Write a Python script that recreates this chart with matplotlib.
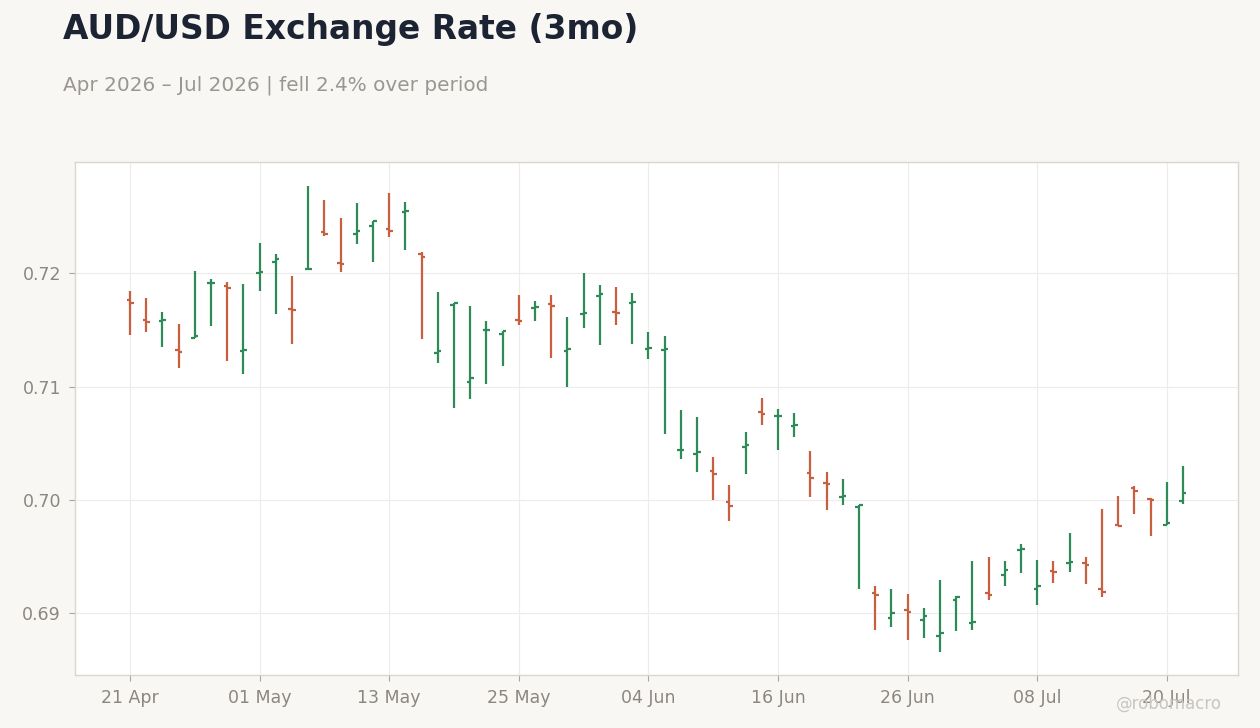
import numpy as np
import matplotlib
matplotlib.use('Agg')
import matplotlib.pyplot as plt
import pandas as pd

# AUD/USD daily OHLC
opens = [0.7176, 0.71585, 0.71576, 0.71322, 0.71433, 0.71911, 0.71892, 0.71310, 0.72003, 0.72102,
         0.71684, 0.72035, 0.72360, 0.72094, 0.72348, 0.72418, 0.72389, 0.72541, 0.72173, 0.71295,
         0.71716, 0.71041, 0.71500, 0.71462, 0.71585, 0.71696, 0.71728, 0.71313, 0.71643, 0.71801,
         0.71655, 0.71740, 0.71336, 0.71325, 0.70442, 0.70401, 0.70254, 0.69979, 0.70466, 0.70776,
         0.70738, 0.70652, 0.70236, 0.70147, 0.70030, 0.69935, 0.69183, 0.68962, 0.69032, 0.68944,
         0.68802, 0.69121, 0.68917, 0.69183, 0.69339, 0.69555, 0.69215, 0.69375, 0.69446, 0.69445,
         0.69215, 0.69775, 0.70103, 0.70012, 0.69782, 0.69988]
highs = [0.71845, 0.71784, 0.71661, 0.71556, 0.72020, 0.71950, 0.71924, 0.71906, 0.72266, 0.72170,
         0.71977, 0.72766, 0.72643, 0.72485, 0.72617, 0.72462, 0.72705, 0.72632, 0.72187, 0.71836,
         0.71734, 0.71713, 0.71582, 0.71494, 0.71810, 0.71757, 0.71810, 0.71617, 0.72003, 0.71898,
         0.71880, 0.71827, 0.71485, 0.71450, 0.70792, 0.70731, 0.70375, 0.70136, 0.70596, 0.70897,
         0.70799, 0.70764, 0.70428, 0.70242, 0.70189, 0.69953, 0.69242, 0.69215, 0.69171, 0.69047,
         0.69295, 0.69153, 0.69463, 0.69499, 0.69463, 0.69614, 0.69472, 0.69463, 0.69711, 0.69499,
         0.69923, 0.70038, 0.70127, 0.70015, 0.70162, 0.70295]
lows = [0.71453, 0.71480, 0.71348, 0.71164, 0.71433, 0.71532, 0.71225, 0.71111, 0.71848, 0.71637,
        0.71374, 0.72035, 0.72330, 0.72015, 0.72260, 0.72102, 0.72322, 0.72208, 0.71418, 0.71208,
        0.70813, 0.70892, 0.71023, 0.71181, 0.71541, 0.71576, 0.71251, 0.70997, 0.71515, 0.71365,
        0.71541, 0.71374, 0.71243, 0.70585, 0.70365, 0.70243, 0.69997, 0.69811, 0.70227, 0.70661,
        0.70440, 0.70555, 0.70024, 0.69909, 0.69953, 0.69218, 0.68855, 0.68882, 0.68767, 0.68785,
        0.68661, 0.68844, 0.68855, 0.69121, 0.69236, 0.69351, 0.69077, 0.69263, 0.69360, 0.69254,
        0.69139, 0.69767, 0.69879, 0.69684, 0.69779, 0.69968]
closes = [0.7174, 0.71567, 0.71585, 0.71304, 0.71447, 0.71915, 0.71874, 0.71319, 0.72015, 0.72129,
          0.71680, 0.72040, 0.72348, 0.72082, 0.72374, 0.72462, 0.72371, 0.72550, 0.72146, 0.71313,
          0.71734, 0.71076, 0.71503, 0.71488, 0.71576, 0.71705, 0.71713, 0.71336, 0.71646, 0.71813,
          0.71646, 0.71743, 0.71345, 0.71330, 0.70444, 0.70421, 0.70233, 0.69950, 0.70484, 0.70758,
          0.70742, 0.70661, 0.70192, 0.70139, 0.70035, 0.69953, 0.69165, 0.69003, 0.69015, 0.68973,
          0.68829, 0.69142, 0.68926, 0.69162, 0.69378, 0.69566, 0.69236, 0.69366, 0.69449, 0.69428,
          0.69189, 0.69767, 0.70083, 0.70003, 0.69799, 0.70059]

dates = pd.bdate_range('2026-04-21', periods=len(opens))

UP = '#2e8b57'
DOWN = '#c8603f'
BG = '#f8f7f4'
GREY = '#8c8681'

fig = plt.figure(figsize=(12.6, 7.28), dpi=100, facecolor=BG)
ax = fig.add_axes([75/1260, 1 - 675/728, (1238-75)/1260, (675-162)/728])
ax.set_facecolor('white')

x = np.arange(len(opens))
tw = 0.22  # open/close tick length
for i in x:
    c = UP if closes[i] >= opens[i] else DOWN
    ax.vlines(i, lows[i], highs[i], color=c, linewidth=1.6)
    ax.hlines(opens[i], i - tw, i, color=c, linewidth=1.6)
    ax.hlines(closes[i], i, i + tw, color=c, linewidth=1.6)

ax.set_xlim(-3.4, 68.4)
ax.set_ylim(0.68455, 0.72982)

ticks = x[::8]
ax.set_xticks(ticks)
ax.set_xticklabels([dates[i].strftime('%d %b') for i in ticks])
ax.set_yticks([0.69, 0.70, 0.71, 0.72])
ax.set_yticklabels(['0.69', '0.70', '0.71', '0.72'])

ax.grid(True, color='#eeeceb', linewidth=0.8)
ax.set_axisbelow(True)
for s in ax.spines.values():
    s.set_color('#dcd6d0')
    s.set_linewidth(1.0)
ax.tick_params(colors=GREY, labelsize=12.5, length=4, width=0.8, pad=6)
ax.tick_params(axis='x', colors='#aaa5a0', labelcolor=GREY)
ax.tick_params(axis='y', colors='#aaa5a0', labelcolor=GREY)

pct = (closes[-1] / opens[0] - 1) * 100
fig.text(63/1260, 1 - 30/728, 'AUD/USD Exchange Rate (3mo)', fontsize=23.7, fontweight='bold',
         color='#1c2333', va='center', ha='left')
fig.text(63/1260, 1 - 85/728, f'Apr 2026 \u2013 Jul 2026 | fell {abs(pct):.1f}% over period',
         fontsize=14.4, color='#9a9692', va='center', ha='left')
# watermark sits over the last tick label, as in the original
fig.text(1222/1260, 1 - 704/728, '@robomacro', fontsize=12, color='#c9c5c0',
         va='center', ha='right')

fig.savefig('out.png', dpi=100, facecolor=BG)
